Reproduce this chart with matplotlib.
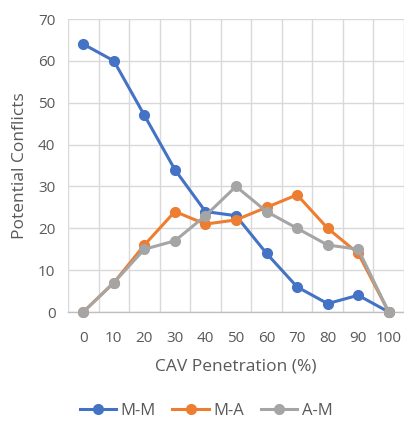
import numpy as np
import matplotlib.pyplot as plt

plt.rcParams['font.family'] = ['Open Sans', 'DejaVu Sans']

penetration = [0, 10, 20, 30, 40, 50, 60, 70, 80, 90, 100]
mm = [64, 60, 47, 34, 24, 23, 14, 6, 2, 4, 0]
ma = [0, 7, 16, 24, 21, 22, 25, 28, 20, 14, 0]
am = [0, 7, 15, 17, 23, 30, 24, 20, 16, 15, 0]

series = [('M-M', mm, '#4472C4'), ('M-A', ma, '#ED7D31'), ('A-M', am, '#A5A5A5')]
text_col = '#595959'
grid_col = '#D9D9D9'

fig = plt.figure(figsize=(4.04, 4.23), dpi=100)
ax = fig.add_axes([68 / 404, 1 - 312 / 423, 1 - 68 / 404, (312 - 19) / 423])

x = np.arange(len(penetration))
for name, vals, col in series:
    ax.plot(x, vals, color=col, lw=2.2, marker='o', ms=7, label=name,
            clip_on=False, zorder=3)

ax.set_xlim(-0.5, len(penetration) - 0.5)
ax.set_ylim(0, 70)
ax.set_yticks(range(0, 71, 10))
ax.set_xticks(x)
ax.set_xticklabels([str(p) for p in penetration])
ax.set_xticks(np.arange(-0.5, len(penetration), 1), minor=True)

ax.grid(True, which='minor', axis='x', color=grid_col, lw=1)
ax.grid(True, which='major', axis='y', color=grid_col, lw=1)
ax.set_axisbelow(True)
ax.tick_params(which='both', length=0, colors=text_col, labelsize=11)
ax.tick_params(axis='x', pad=14)
ax.tick_params(axis='y', pad=9)

for side in ['top', 'right', 'left']:
    ax.spines[side].set_visible(False)
ax.spines['bottom'].set_color('#BFBFBF')
ax.spines['bottom'].set_linewidth(1)

ax.set_xlabel('CAV Penetration (%)', color=text_col, fontsize=12.5, labelpad=9)
ax.set_ylabel('Potential Conflicts', color=text_col, fontsize=12.5, labelpad=7)

fig.legend(loc='lower center', bbox_to_anchor=(0.51, -0.025), ncol=3,
           frameon=False, fontsize=12, labelcolor=text_col,
           handlelength=2.2, columnspacing=1.0, handletextpad=0.25)

fig.savefig('out.png', dpi=100)
